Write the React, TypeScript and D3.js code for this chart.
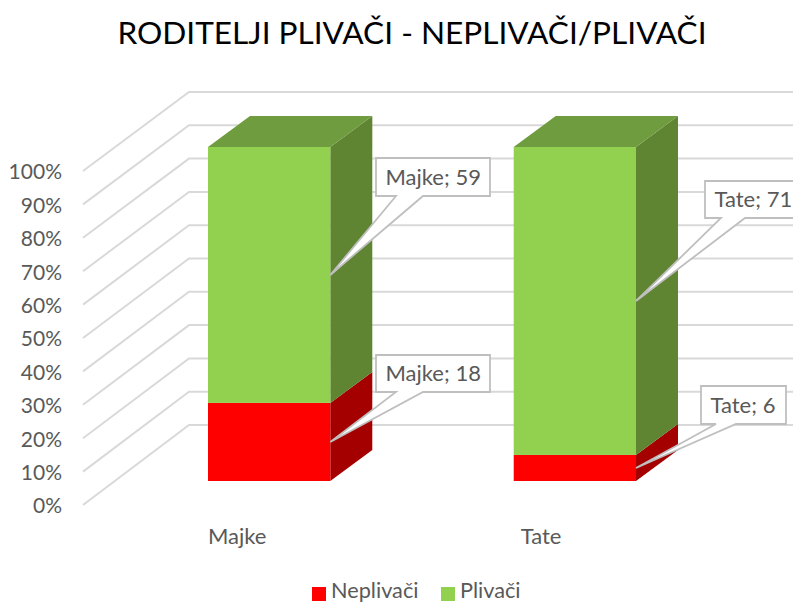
import * as d3 from 'd3'

const CATEGORIES = ['Majke', 'Tate']
const SERIES = ['Neplivači', 'Plivači']
const NEPLIVACI = [18, 6]
const PLIVACI = [59, 71]
const TICKS = [0, 10, 20, 30, 40, 50, 60, 70, 80, 90, 100]

const W = 793
const H = 603
const FONT = 'Lato, "Open Sans", sans-serif'
const GREY = '#595959'
const GRID = '#d9d9d9'
const CALLOUT_LINE = '#bfbfbf'

const FRONT = { front: '#ff0000', side: '#a50000', top: '#c00000' }
const BACK = { front: '#92d050', side: '#5f8432', top: '#6f9c3e' }
const COLORS = [FRONT, BACK]

// depth of the 3d box and of the side wall
const DX = 42
const DY = -31
const WALL_DX = 106

const y = d3.scaleLinear().domain([0, 1]).range([481, 147])
const yWall = d3.scaleLinear().domain([0, 100]).range([505, 171])
const yBack = d3.scaleLinear().domain([0, 100]).range([425, 92])
const x = d3.scaleBand().domain(CATEGORIES).range([208, 636]).paddingInner(0.6).paddingOuter(0)

const rows = CATEGORIES.map((c, i) => ({ cat: c, s0: NEPLIVACI[i], s1: PLIVACI[i] }))
const stacked = d3.stack<any>().keys(['s0', 's1']).offset(d3.stackOffsetExpand)(rows)

// callout box per series/category
const BOXES = [
  [{ x: 376, y: 355, w: 114, h: 37, b0: 396, b1: 423 }, { x: 701, y: 386, w: 85, h: 38, b0: 716, b1: 736 }],
  [{ x: 376, y: 158, w: 114, h: 38, b0: 396, b1: 423 }, { x: 705, y: 181, w: 100, h: 37, b0: 721, b1: 745 }],
]
const VALUES = [NEPLIVACI, PLIVACI]

const line = d3.line()

export default function App() {
  return (
    <svg width={W} height={H} style={{ position: 'absolute', left: 0, top: 0, background: '#fff' }} fontFamily={FONT}>
      <text x={412} y={44} textAnchor="middle" fontSize={31.6} fill="#000">
        RODITELJI PLIVAČI - NEPLIVAČI/PLIVAČI
      </text>

      {TICKS.map(t => (
        <g key={t}>
          <path
            d={line([[83, yWall(t)], [83 + WALL_DX, yBack(t)], [W, yBack(t)]]) || ''}
            fill="none"
            stroke={GRID}
            strokeWidth={2}
          />
          <text x={62} y={yWall(t) + 1} dy="0.35em" textAnchor="end" fontSize={21} fill={GREY}>
            {t}%
          </text>
        </g>
      ))}

      {stacked.map((s, si) => (
        <g key={si}>
          {s.map((d, i) => {
            const x0 = x(CATEGORIES[i]) as number
            const x1 = x0 + x.bandwidth()
            const yb = y(d[0])
            const yt = y(d[1])
            const c = COLORS[si]
            return (
              <g key={i}>
                <path
                  d={line([[x1, yb], [x1 + DX, yb + DY], [x1 + DX, yt + DY], [x1, yt]]) + 'Z'}
                  fill={c.side}
                />
                {si === 1 && (
                  <path
                    d={line([[x0, yt], [x0 + DX, yt + DY], [x1 + DX, yt + DY], [x1, yt]]) + 'Z'}
                    fill={c.top}
                  />
                )}
                <rect x={x0} y={yt} width={x.bandwidth()} height={yb - yt} fill={c.front} />
              </g>
            )
          })}
        </g>
      ))}

      {CATEGORIES.map(c => (
        <text
          key={c}
          x={(x(c) as number) + (c === 'Tate' ? 7 : 0)}
          y={536}
          dy="0.35em"
          fontSize={22}
          fill={GREY}
        >
          {c}
        </text>
      ))}

      {stacked.map((s, si) =>
        s.map((d, i) => {
          const b = BOXES[si][i]
          const tipX = (x(CATEGORIES[i]) as number) + x.bandwidth()
          const tipY = y((d[0] + d[1]) / 2)
          const outline = line([
            [b.x, b.y],
            [b.x + b.w, b.y],
            [b.x + b.w, b.y + b.h],
            [b.b1, b.y + b.h],
            [tipX, tipY],
            [b.b0, b.y + b.h],
            [b.x, b.y + b.h],
          ]) + 'Z'
          return (
            <g key={`${si}-${i}`}>
              <path d={outline} fill="#fff" stroke={CALLOUT_LINE} strokeWidth={1.8} />
              <text
                x={b.x + 9.5}
                y={b.y + b.h / 2}
                dy="0.35em"
                fontSize={22}
                fill={GREY}
              >
                {CATEGORIES[i]}; {VALUES[si][i]}
              </text>
            </g>
          )
        })
      )}

      {SERIES.map((name, i) => {
        const sx = i === 0 ? 312 : 441
        return (
          <g key={name}>
            <rect x={sx} y={587} width={14} height={14} fill={COLORS[i].front} />
            <text x={sx + 19} y={597.5} fontSize={21.7} fill={GREY}>
              {name}
            </text>
          </g>
        )
      })}
    </svg>
  )
}
